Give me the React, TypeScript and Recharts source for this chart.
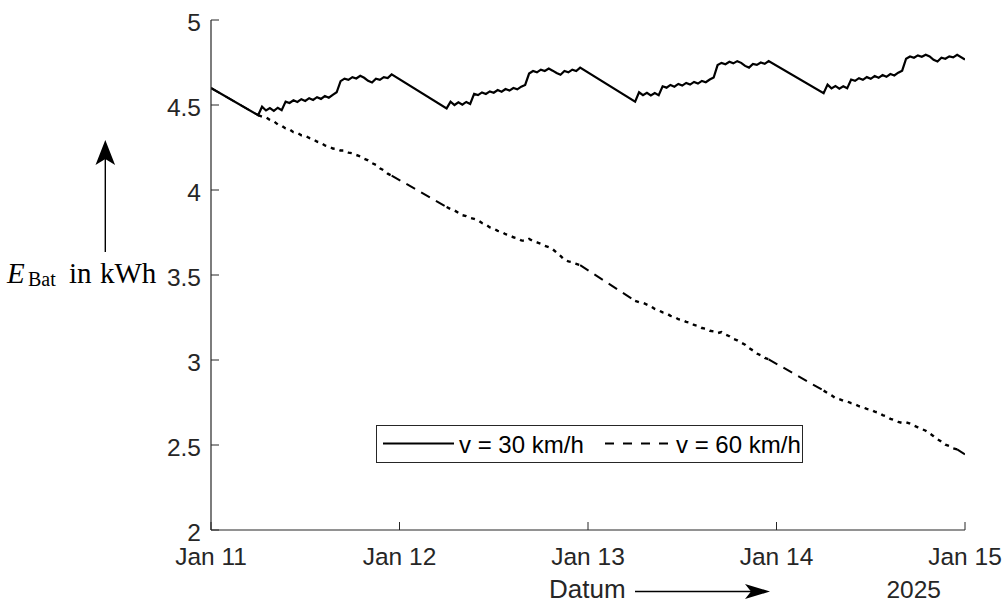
import React from 'react';
import { LineChart, Line, XAxis, YAxis } from 'recharts';

const xTickHours = [0, 24, 48, 72, 96];
const xTickLabels = ['Jan 11', 'Jan 12', 'Jan 13', 'Jan 14', 'Jan 15'];
const yTicks = [2, 2.5, 3, 3.5, 4, 4.5, 5];
const yearLabel = '2025';
const seriesNames = ['v = 30 km/h', 'v = 60 km/h'];

// half-hour samples while driving / charging, 06:00 to 23:00; nights are straight lines
const dayHours = [
  6, 6.5, 7, 7.5, 8, 8.5, 9, 9.5, 10, 10.5, 11, 11.5, 12, 12.5, 13, 13.5, 14, 14.5,
  15, 15.5, 16, 16.5, 17, 17.5, 18, 18.5, 19, 19.5, 20, 20.5, 21, 21.5, 22, 22.5, 23,
];

// v = 30 km/h
const e30Start = 4.6;
const e30Jan11 = [4.440, 4.490, 4.468, 4.482, 4.466, 4.484, 4.470, 4.520, 4.512, 4.528, 4.518, 4.534, 4.524, 4.540, 4.530, 4.546, 4.536, 4.553, 4.543, 4.560, 4.575, 4.640, 4.655, 4.648, 4.664, 4.656, 4.672, 4.660, 4.642, 4.632, 4.655, 4.648, 4.664, 4.658, 4.680];
const e30Jan12 = [4.480, 4.520, 4.500, 4.516, 4.502, 4.518, 4.506, 4.565, 4.558, 4.574, 4.565, 4.580, 4.572, 4.588, 4.578, 4.594, 4.585, 4.600, 4.592, 4.608, 4.618, 4.685, 4.700, 4.692, 4.708, 4.700, 4.714, 4.702, 4.688, 4.678, 4.700, 4.692, 4.708, 4.700, 4.720];
const e30Jan13 = [4.520, 4.575, 4.558, 4.572, 4.556, 4.570, 4.558, 4.610, 4.602, 4.618, 4.608, 4.624, 4.614, 4.630, 4.620, 4.636, 4.626, 4.642, 4.634, 4.650, 4.662, 4.735, 4.748, 4.740, 4.754, 4.745, 4.758, 4.748, 4.730, 4.720, 4.742, 4.736, 4.750, 4.742, 4.758];
const e30Jan14 = [4.570, 4.620, 4.598, 4.612, 4.596, 4.610, 4.598, 4.650, 4.642, 4.658, 4.648, 4.664, 4.654, 4.670, 4.660, 4.676, 4.666, 4.682, 4.674, 4.690, 4.702, 4.772, 4.785, 4.778, 4.792, 4.784, 4.796, 4.786, 4.766, 4.756, 4.778, 4.772, 4.786, 4.780, 4.795];
const e30End = 4.767;

// v = 60 km/h
const e60Start = 4.6;
const e60Jan11 = [4.440, 4.432, 4.428, 4.412, 4.404, 4.386, 4.378, 4.362, 4.356, 4.340, 4.336, 4.322, 4.320, 4.306, 4.300, 4.284, 4.278, 4.262, 4.256, 4.244, 4.242, 4.232, 4.232, 4.220, 4.216, 4.206, 4.198, 4.184, 4.174, 4.158, 4.148, 4.128, 4.116, 4.096, 4.085];
const e60Jan12 = [3.900, 3.888, 3.880, 3.866, 3.852, 3.846, 3.836, 3.830, 3.822, 3.806, 3.796, 3.780, 3.772, 3.760, 3.754, 3.740, 3.734, 3.722, 3.716, 3.704, 3.700, 3.712, 3.700, 3.692, 3.684, 3.672, 3.664, 3.652, 3.632, 3.612, 3.590, 3.580, 3.576, 3.566, 3.558];
const e60Jan13 = [3.348, 3.340, 3.336, 3.326, 3.316, 3.300, 3.292, 3.280, 3.274, 3.260, 3.254, 3.240, 3.236, 3.224, 3.220, 3.206, 3.200, 3.188, 3.184, 3.172, 3.168, 3.158, 3.164, 3.150, 3.140, 3.124, 3.116, 3.102, 3.090, 3.070, 3.056, 3.038, 3.028, 3.012, 3.004];
const e60Jan14 = [2.820, 2.806, 2.792, 2.776, 2.770, 2.760, 2.756, 2.746, 2.740, 2.728, 2.722, 2.712, 2.708, 2.696, 2.690, 2.676, 2.668, 2.654, 2.646, 2.636, 2.630, 2.634, 2.626, 2.614, 2.604, 2.594, 2.584, 2.568, 2.552, 2.534, 2.520, 2.502, 2.494, 2.480, 2.474];
const e60End = 2.445;

type Pt = { t: number; v: number | null };

const e30Days = [e30Jan11, e30Jan12, e30Jan13, e30Jan14];
const e60Days = [e60Jan11, e60Jan12, e60Jan13, e60Jan14];

const e30Data: Pt[] = [{ t: 0, v: e30Start }];
e30Days.forEach((day, d) => day.forEach((v, i) => e30Data.push({ t: 24 * d + dayHours[i], v })));
e30Data.push({ t: 96, v: e30End });

// 60 km/h: daytime part (dotted look) and the night stretches (long dashes)
const e60DayData: Pt[] = [];
const e60NightData: Pt[] = [{ t: 0, v: e60Start }];
e60Days.forEach((day, d) => {
  day.forEach((v, i) => e60DayData.push({ t: 24 * d + dayHours[i], v }));
  e60DayData.push({ t: 24 * d + 26.5, v: null });
  e60NightData.push({ t: 24 * d + dayHours[0], v: day[0] });
  e60NightData.push({ t: 24 * d + 14.5, v: null });
  e60NightData.push({ t: 24 * d + dayHours[dayHours.length - 1], v: day[day.length - 1] });
});
e60NightData.push({ t: 96, v: e60End });

const AXIS = '#262626';
const FONT = '"Liberation Sans", Arial, Helvetica, sans-serif';
const TICK = 8;

const BottomTick = (props: any) => {
  const { x, y, payload } = props;
  const i = xTickHours.indexOf(payload.value);
  return (
    <g>
      <line x1={x} x2={x} y1={y} y2={y - TICK} stroke={AXIS} strokeWidth={1} />
      <text x={x} y={y + 35} textAnchor="middle" fontSize={24.5} fontFamily={FONT} fill={AXIS}>
        {xTickLabels[i]}
      </text>
    </g>
  );
};

const TopTick = (props: any) => {
  const { x, y } = props;
  return <line x1={x} x2={x} y1={y} y2={y + TICK} stroke={AXIS} strokeWidth={1} />;
};

const LeftTick = (props: any) => {
  const { x, y, payload } = props;
  return (
    <g>
      <line x1={x} x2={x + TICK} y1={y} y2={y} stroke={AXIS} strokeWidth={1} />
      <text x={x - 10} y={y + 11} textAnchor="end" fontSize={24.5} fontFamily={FONT} fill={AXIS}>
        {payload.value}
      </text>
    </g>
  );
};

const RightTick = (props: any) => {
  const { x, y } = props;
  return <line x1={x} x2={x - TICK} y1={y} y2={y} stroke={AXIS} strokeWidth={1} />;
};

export default function App() {
  return (
    <div style={{ position: 'absolute', left: 0, top: 0, width: 1004, height: 603, background: '#fff' }}>
      <LineChart width={1004} height={603} margin={{ top: 20, right: 39, bottom: 43, left: 151 }}>
        <XAxis
          xAxisId="b"
          type="number"
          dataKey="t"
          domain={[0, 96]}
          ticks={xTickHours}
          interval={0}
          height={30}
          tickSize={0}
          tickMargin={0}
          tickLine={false}
          tick={<BottomTick />}
          axisLine={{ stroke: AXIS, strokeWidth: 1.2 }}
          allowDataOverflow
        />
        <XAxis
          xAxisId="t"
          orientation="top"
          type="number"
          domain={[0, 96]}
          ticks={xTickHours}
          interval={0}
          height={0}
          tickSize={0}
          tickMargin={0}
          tickLine={false}
          tick={<TopTick />}
          axisLine={{ stroke: AXIS, strokeWidth: 1.2 }}
          allowDataOverflow
        />
        <YAxis
          yAxisId="l"
          type="number"
          domain={[2, 5]}
          ticks={yTicks}
          interval={0}
          width={60}
          tickSize={0}
          tickMargin={0}
          tickLine={false}
          tick={<LeftTick />}
          axisLine={{ stroke: AXIS, strokeWidth: 1.2 }}
          allowDataOverflow
        />
        <YAxis
          yAxisId="r"
          orientation="right"
          type="number"
          domain={[2, 5]}
          ticks={yTicks}
          interval={0}
          width={0}
          tickSize={0}
          tickMargin={0}
          tickLine={false}
          tick={<RightTick />}
          axisLine={{ stroke: AXIS, strokeWidth: 1.2 }}
          allowDataOverflow
        />
        <Line
          xAxisId="b"
          yAxisId="l"
          data={e60NightData}
          dataKey="v"
          name={seriesNames[1]}
          stroke="#000"
          strokeWidth={2}
          strokeDasharray="10 7"
          dot={false}
          activeDot={false}
          isAnimationActive={false}
        />
        <Line
          xAxisId="b"
          yAxisId="l"
          data={e60DayData}
          dataKey="v"
          name={seriesNames[1]}
          stroke="#000"
          strokeWidth={2.4}
          strokeDasharray="4 5"
          dot={false}
          activeDot={false}
          isAnimationActive={false}
        />
        <Line
          xAxisId="b"
          yAxisId="l"
          data={e30Data}
          dataKey="v"
          name={seriesNames[0]}
          stroke="#000"
          strokeWidth={2.2}
          dot={false}
          activeDot={false}
          isAnimationActive={false}
        />
      </LineChart>

      <svg width={1004} height={603} style={{ position: 'absolute', left: 0, top: 0, pointerEvents: 'none' }}>
        {/* legend */}
        <rect x={376.5} y={425.5} width={426} height={37} fill="#fff" stroke={AXIS} strokeWidth={1} />
        <line x1={383} x2={454} y1={443.5} y2={443.5} stroke="#000" strokeWidth={2} />
        <text x={459} y={453} fontSize={24} fontFamily={FONT} fill="#000">{seriesNames[0]}</text>
        <line x1={605} x2={668} y1={443.5} y2={443.5} stroke="#000" strokeWidth={2} strokeDasharray="9 9" />
        <text x={676} y={453} fontSize={24} fontFamily={FONT} fill="#000">{seriesNames[1]}</text>

        {/* y label with arrow */}
        <text y={282.5} fontFamily='"Liberation Serif", "Times New Roman", serif' fill="#000">
          <tspan x={7} fontSize={29} fontStyle="italic">E</tspan>
          <tspan x={28} dy={3} fontSize={20}>Bat</tspan>
          <tspan x={69} dy={-3} fontSize={29}>in</tspan>
          <tspan x={100} fontSize={29}>kWh</tspan>
        </text>
        <line x1={105.3} x2={105.3} y1={252} y2={158} stroke="#000" strokeWidth={1.4} />
        <polygon points="105.3,140 95.5,165 105.3,159 115.1,165" fill="#000" />

        {/* x label with arrow */}
        <text x={549} y={598} fontSize={26} fontFamily={FONT} fill={AXIS}>Datum</text>
        <line x1={635} x2={752} y1={591.5} y2={591.5} stroke="#000" strokeWidth={1.4} />
        <polygon points="770,591.5 745,584 751,591.5 745,599" fill="#000" />
        <text x={941} y={598} textAnchor="end" fontSize={24.5} fontFamily={FONT} fill={AXIS}>{yearLabel}</text>
      </svg>
    </div>
  );
}
